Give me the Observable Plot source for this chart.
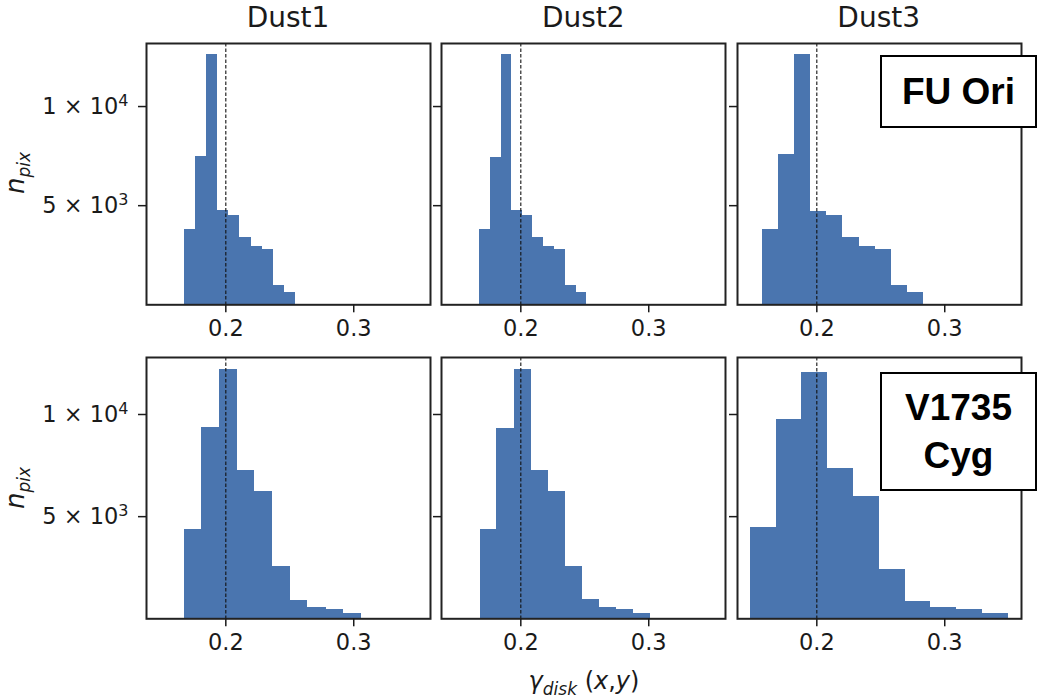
<!DOCTYPE html>
<html>
<head>
<meta charset="utf-8">
<script src="https://cdn.jsdelivr.net/npm/d3@7"></script>
<script src="https://cdn.jsdelivr.net/npm/@observablehq/plot@0.6"></script>
<style>
  html, body { margin: 0; padding: 0; background: #fff; }
  #fig { position: relative; width: 1042px; height: 699px; overflow: hidden; font-family: "DejaVu Sans", sans-serif; color: #1a1a1a; }
  .panel { position: absolute; }
  .title { position: absolute; font-size: 28px; line-height: 32px; transform: translateX(-50%); white-space: nowrap; }
  .ylab { position: absolute; font-size: 26px; font-style: italic; white-space: nowrap; transform: translate(-50%, -50%) rotate(-90deg); }
  .ylab sub, .xlab sub { font-size: 17px; line-height: 0; }
  .xlab { position: absolute; font-size: 24px; white-space: nowrap; transform: translateX(-50%); }
  .box { position: absolute; box-sizing: border-box; left: 880px; width: 157px; border: 2px solid #000; background: #fff; color: #000;
         font-family: "Liberation Sans", Arial, sans-serif; font-weight: bold; font-size: 37px; text-align: center; display: flex; align-items: center; justify-content: center; line-height: 48px; }
</style>
</head>
<body>
<div id="fig"></div>
<script>
// bin edges (gamma) and pixel counts
let edges_fu1 = [0.1675, 0.1762, 0.1849, 0.1935, 0.2023, 0.2109, 0.2198, 0.2286, 0.2375, 0.2461, 0.2547];
let edges_fu2 = [0.1677, 0.1763, 0.1846, 0.1930, 0.2010, 0.2094, 0.2180, 0.2263, 0.2349, 0.2432, 0.2516];
let edges_fu3 = [0.1576, 0.1701, 0.1828, 0.1953, 0.2078, 0.2203, 0.2331, 0.2456, 0.2581, 0.2706, 0.2833];
let edges_v1 = [0.1675, 0.1813, 0.1953, 0.2089, 0.2227, 0.2367, 0.2505, 0.2641, 0.2784, 0.2922, 0.3060];
let edges_v2 = [0.1682, 0.1813, 0.1948, 0.2081, 0.2214, 0.2346, 0.2482, 0.2615, 0.2750, 0.2883, 0.3016];
let edges_v3 = [0.1479, 0.1682, 0.1883, 0.2083, 0.2284, 0.2487, 0.2690, 0.2891, 0.3094, 0.3294, 0.3495];

let counts_fu1 = [3805, 7475, 12643, 4781, 4529, 3418, 2963, 2795, 993, 623];
let counts_fu2 = [3805, 7440, 12643, 4781, 4529, 3418, 2963, 2795, 993, 623];
let counts_fu3 = [3822, 7576, 12610, 4714, 4529, 3384, 2929, 2795, 993, 606];
let counts_v1 = [4382, 9350, 12217, 7265, 6255, 2541, 912, 538, 456, 244];
let counts_v2 = [4382, 9333, 12217, 7265, 6255, 2541, 928, 538, 456, 244];
let counts_v3 = [4447, 9758, 12038, 7363, 5962, 2427, 847, 538, 456, 244];

let x_domain = [0.138, 0.36];
let x_ticks = [0.2, 0.3];
let y_ticks = [5000, 10000];
let y_tick_labels = ["5 × 10^3", "1 × 10^4"];
let y_domain_fu = [0, 13180];
let y_domain_v = [0, 12790];
let ref_gamma = [0.2];
let columns = ["Dust1", "Dust2", "Dust3"];

const panel_w = 284, panel_h = 261.3;
const col_left = [146, 441.3, 736.7];
const row_top = [43, 357];
const fig = d3.select("#fig");

function histPanel(edges, counts, y_domain, col, row) {
  let bins = counts.map((c, i) => ({ x1: edges[i], x2: edges[i + 1], y: c }));
  let mLeft = col == 0 ? 146 : 10;
  let chart = Plot.plot({
    width: mLeft + panel_w + 2,
    height: panel_h + 2 + 50,
    marginLeft: mLeft,
    marginRight: 2,
    marginTop: 2,
    marginBottom: 50,
    x: { domain: x_domain },
    y: { domain: y_domain },
    style: { background: "transparent", fontFamily: "DejaVu Sans", color: "#1a1a1a", overflow: "visible" },
    marks: [
      Plot.rectY(bins, { x1: "x1", x2: "x2", y: "y", fill: "#4a75af", shapeRendering: "crispEdges" }),
      Plot.ruleX(ref_gamma, { stroke: "#111", strokeWidth: 1.1, strokeDasharray: "3.5,2" }),
      Plot.frame({ stroke: "#222", strokeWidth: 2 }),
      Plot.axisX(x_ticks, { tickSize: 8, tickPadding: 7, strokeWidth: 1.5, fontSize: 22.5, label: null, tickFormat: d3.format(".1f") }),
      col == 0
        ? Plot.axisY(y_ticks, { tickSize: 8, tickPadding: 10, strokeWidth: 1.5, fontSize: 22.5, label: null, tickFormat: d => y_tick_labels[y_ticks.indexOf(d)] })
        : Plot.axisY(y_ticks, { tickSize: 8, strokeWidth: 1.5, label: null, text: null }),
    ],
  });
  // raise the exponent in the y tick labels
  d3.select(chart).selectAll("text").filter(function () { return this.textContent.includes("^"); })
    .each(function () {
      let [base, power] = this.textContent.split("^");
      let label = d3.select(this).text("");
      label.append("tspan").text(base);
      label.append("tspan").attr("font-size", 16).attr("dy", "-0.5em").text(power);
    });
  fig.append("div")
    .attr("class", "panel")
    .style("left", (col_left[col] - mLeft) + "px")
    .style("top", (row_top[row] - 2) + "px")
    .node().append(chart);
}

histPanel(edges_fu1, counts_fu1, y_domain_fu, 0, 0);
histPanel(edges_fu2, counts_fu2, y_domain_fu, 1, 0);
histPanel(edges_fu3, counts_fu3, y_domain_fu, 2, 0);
histPanel(edges_v1, counts_v1, y_domain_v, 0, 1);
histPanel(edges_v2, counts_v2, y_domain_v, 1, 1);
histPanel(edges_v3, counts_v3, y_domain_v, 2, 1);

// titles above each column
columns.forEach((t, i) => {
  fig.append("div").attr("class", "title")
    .style("left", (col_left[i] + panel_w / 2) + "px").style("top", "2px").text(t);
});

// y labels, x label and the two name boxes are plain html on top
fig.append("div").attr("class", "ylab").style("left", "15px").style("top", "173px").html("n<sub>pix</sub>");
fig.append("div").attr("class", "ylab").style("left", "15px").style("top", "488px").html("n<sub>pix</sub>");
fig.append("div").attr("class", "xlab").style("left", "584px").style("top", "667px").html("<i>γ<sub>disk</sub></i> (<i>x</i>,<i>y</i>)");
fig.append("div").attr("class", "box").style("top", "55px").style("height", "73px").html("FU Ori");
fig.append("div").attr("class", "box").style("top", "372px").style("height", "119px").html("V1735<br>Cyg");
</script>
</body>
</html>
